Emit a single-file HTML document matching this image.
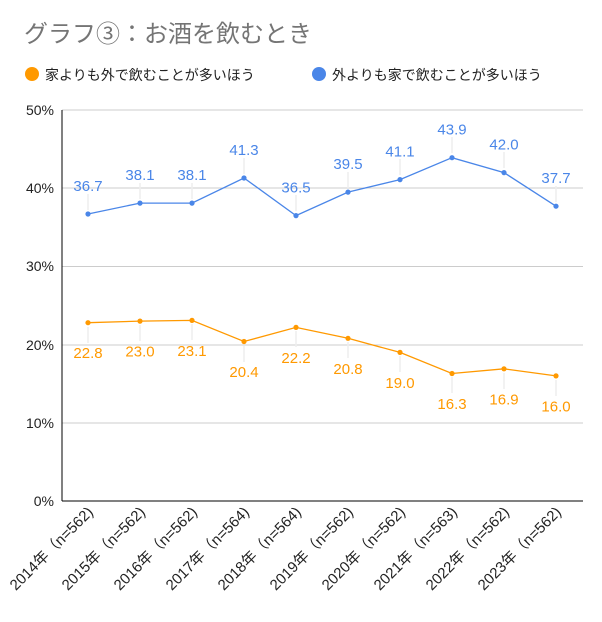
<!DOCTYPE html>
<html><head><meta charset="utf-8"><style>body{margin:0;background:#fff}</style></head><body>
<svg width="602" height="617" xmlns="http://www.w3.org/2000/svg" font-family="Liberation Sans, Noto Sans CJK JP, sans-serif">
<rect width="602" height="617" fill="#fff"/>
<text x="24" y="42" font-size="24" fill="#757575">グラフ③：お酒を飲むとき</text>
<circle cx="32" cy="74" r="7" fill="#ff9900"/>
<text x="45" y="80" font-size="14" fill="#222">家よりも外で飲むことが多いほう</text>
<circle cx="319" cy="74" r="7" fill="#4a86e8"/>
<text x="332" y="80" font-size="14" fill="#222">外よりも家で飲むことが多いほう</text>
<g stroke="#ccc" stroke-width="1">
<line x1="62" x2="583" y1="110" y2="110"/><line x1="62" x2="583" y1="188" y2="188"/>
<line x1="62" x2="583" y1="266.5" y2="266.5"/><line x1="62" x2="583" y1="345" y2="345"/>
<line x1="62" x2="583" y1="423" y2="423"/>
</g>
<line x1="62" x2="62" y1="110" y2="501" stroke="#000"/>
<line x1="62" x2="583" y1="501" y2="501" stroke="#000"/>
<g font-size="14" fill="#222" text-anchor="end">
<text x="54" y="115">50%</text><text x="54" y="193">40%</text><text x="54" y="271">30%</text>
<text x="54" y="350">20%</text><text x="54" y="428">10%</text><text x="54" y="506">0%</text>
</g>
<g stroke="#eee" stroke-width="1.5">
<line x1="88" x2="88" y1="210" y2="194"/><line x1="140" x2="140" y1="199" y2="183"/><line x1="192" x2="192" y1="199" y2="183"/><line x1="244" x2="244" y1="174" y2="158"/><line x1="296" x2="296" y1="211" y2="195"/><line x1="348" x2="348" y1="188" y2="172"/><line x1="400" x2="400" y1="175" y2="159"/><line x1="452" x2="452" y1="153" y2="137"/><line x1="504" x2="504" y1="168" y2="152"/><line x1="556" x2="556" y1="202" y2="186"/>
<line x1="88" x2="88" y1="327" y2="343"/><line x1="140" x2="140" y1="325" y2="341"/><line x1="192" x2="192" y1="324" y2="340"/><line x1="244" x2="244" y1="346" y2="362"/><line x1="296" x2="296" y1="331" y2="347"/><line x1="348" x2="348" y1="342" y2="358"/><line x1="400" x2="400" y1="356" y2="372"/><line x1="452" x2="452" y1="377" y2="393"/><line x1="504" x2="504" y1="373" y2="389"/><line x1="556" x2="556" y1="380" y2="396"/>
</g>
<polyline fill="none" stroke="#4a86e8" stroke-width="1.3" points="88,214 140,203.1 192,203.1 244,178 296,215.6 348,192.1 400,179.6 452,157.7 504,172.6 556,206.2"/>
<polyline fill="none" stroke="#ff9900" stroke-width="1.3" points="88,322.7 140,321.1 192,320.4 244,341.5 296,327.4 348,338.3 400,352.4 452,373.5 504,368.8 556,375.9"/>
<g fill="#4a86e8">
<circle cx="88" cy="214" r="2.6"/><circle cx="140" cy="203.1" r="2.6"/><circle cx="192" cy="203.1" r="2.6"/><circle cx="244" cy="178" r="2.6"/><circle cx="296" cy="215.6" r="2.6"/><circle cx="348" cy="192.1" r="2.6"/><circle cx="400" cy="179.6" r="2.6"/><circle cx="452" cy="157.7" r="2.6"/><circle cx="504" cy="172.6" r="2.6"/><circle cx="556" cy="206.2" r="2.6"/>
</g>
<g fill="#ff9900">
<circle cx="88" cy="322.7" r="2.6"/><circle cx="140" cy="321.1" r="2.6"/><circle cx="192" cy="320.4" r="2.6"/><circle cx="244" cy="341.5" r="2.6"/><circle cx="296" cy="327.4" r="2.6"/><circle cx="348" cy="338.3" r="2.6"/><circle cx="400" cy="352.4" r="2.6"/><circle cx="452" cy="373.5" r="2.6"/><circle cx="504" cy="368.8" r="2.6"/><circle cx="556" cy="375.9" r="2.6"/>
</g>
<g font-size="15" fill="#4a86e8" text-anchor="middle">
<text x="88" y="191">36.7</text><text x="140" y="180">38.1</text><text x="192" y="180">38.1</text><text x="244" y="155">41.3</text><text x="296" y="192.6">36.5</text><text x="348" y="169">39.5</text><text x="400" y="156.6">41.1</text><text x="452" y="134.7">43.9</text><text x="504" y="149.6">42.0</text><text x="556" y="183.2">37.7</text>
</g>
<g font-size="15" fill="#ff9900" text-anchor="middle">
<text x="88" y="358">22.8</text><text x="140" y="356.5">23.0</text><text x="192" y="356">23.1</text><text x="244" y="377">20.4</text><text x="296" y="363">22.2</text><text x="348" y="374">20.8</text><text x="400" y="388">19.0</text><text x="452" y="409">16.3</text><text x="504" y="404.5">16.9</text><text x="556" y="411.5">16.0</text>
</g>
<g font-size="15" fill="#222" text-anchor="end">
<text transform="translate(94,513) rotate(-45)">2014年（n=562)</text>
<text transform="translate(146,513) rotate(-45)">2015年（n=562)</text>
<text transform="translate(198,513) rotate(-45)">2016年（n=562)</text>
<text transform="translate(250,513) rotate(-45)">2017年（n=564)</text>
<text transform="translate(302,513) rotate(-45)">2018年（n=564)</text>
<text transform="translate(354,513) rotate(-45)">2019年（n=562)</text>
<text transform="translate(406,513) rotate(-45)">2020年（n=562)</text>
<text transform="translate(458,513) rotate(-45)">2021年（n=563)</text>
<text transform="translate(510,513) rotate(-45)">2022年（n=562)</text>
<text transform="translate(562,513) rotate(-45)">2023年（n=562)</text>
</g>
</svg>
</body></html>
